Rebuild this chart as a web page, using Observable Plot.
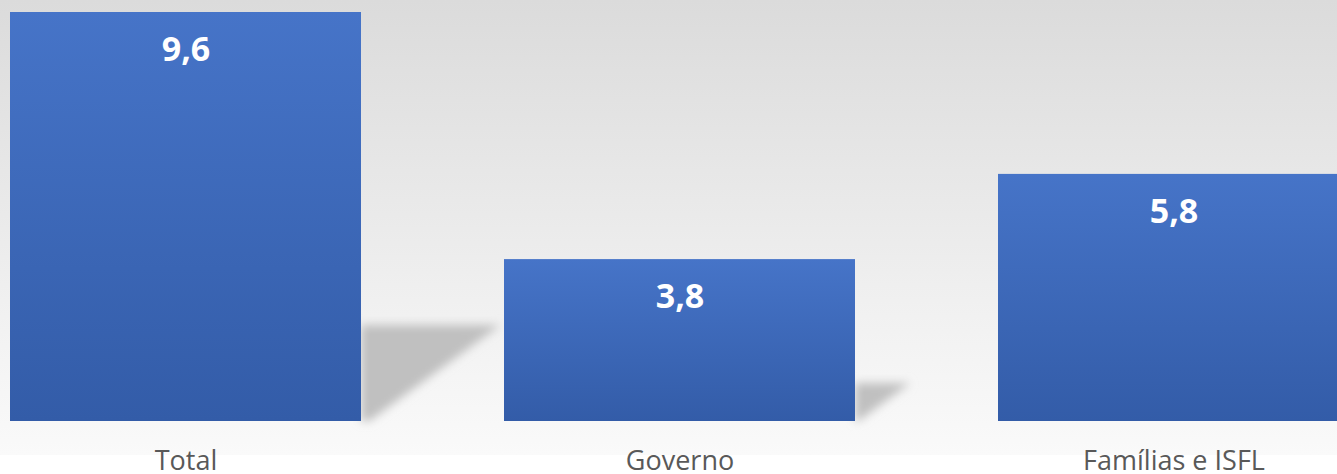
<!DOCTYPE html>
<html>
<head>
<meta charset="utf-8">
<script src="https://cdn.jsdelivr.net/npm/d3@7"></script>
<script src="https://cdn.jsdelivr.net/npm/@observablehq/plot@0.6"></script>
<style>
  html, body { margin: 0; padding: 0; overflow: hidden; background: #fff; }
</style>
</head>
<body>
<div id="chart"></div>
<script>
const categories = ["Total", "Governo", "Famílias e ISFL"];
const values = [9.6, 3.8, 5.8];
const valueLabels = ["9,6", "3,8", "5,8"];

const data = categories.map((c, i) => ({cat: c, v: values[i], label: valueLabels[i]}));

const NS = "http://www.w3.org/2000/svg";
function defsMark() {
  const defs = document.createElementNS(NS, "defs");
  defs.innerHTML = `
    <linearGradient id="barGrad" x1="0" y1="0" x2="0" y2="1">
      <stop offset="0" stop-color="#4674c8"/>
      <stop offset="1" stop-color="#335ca8"/>
    </linearGradient>
    <filter id="shadowBlur" x="-50%" y="-50%" width="200%" height="200%">
      <feGaussianBlur stdDeviation="5"/>
    </filter>`;
  return defs;
}

function shadowMark(index, scales) {
  const g = document.createElementNS(NS, "g");
  const x = scales.x, y = scales.y;
  const bw = x.bandwidth();
  const yb = y(0);
  for (const d of data) {
    const x1 = x(d.cat) + bw;
    const h = yb - y(d.v);
    const sh = 0.235 * h;
    const yt = yb - sh;
    const dx = 1.45 * sh;
    const p = document.createElementNS(NS, "polygon");
    p.setAttribute("points", [
      [x1, yb], [x1, yt], [x1 + dx, yt], [x1 + 0.06 * dx, yb]
    ].map(q => q.join(",")).join(" "));
    p.setAttribute("fill", "#c0c0c0");
    p.setAttribute("filter", "url(#shadowBlur)");
    g.appendChild(p);
  }
  return g;
}

const chart = Plot.plot({
  width: 1337,
  height: 474,
  marginTop: 12,
  marginBottom: 53,
  marginLeft: 10,
  marginRight: 0,
  style: {
    background: "linear-gradient(#dbdbdb 0px, #f0f0f0 300px, #fafafa 455px, #ffffff 455px)",
    fontFamily: "'Open Sans', sans-serif",
    fontSize: "27px",
    color: "#595959",
    overflow: "visible"
  },
  x: {
    domain: categories,
    range: [10, 1349],
    paddingInner: 0.2895,
    paddingOuter: 0,
    tickSize: 0,
    tickPadding: 29,
    label: null
  },
  y: {
    domain: [0, 9.6],
    axis: null
  },
  marks: [
    defsMark,
    shadowMark,
    Plot.barY(data, {x: "cat", y: "v", fill: "url(#barGrad)"}),
    Plot.text(data, {
      x: "cat", y: "v", text: "label",
      dy: 38, fill: "white", fontWeight: "bold", fontSize: 34,
      lineAnchor: "middle"
    })
  ]
});
document.getElementById("chart").appendChild(chart);
</script>
</body>
</html>
